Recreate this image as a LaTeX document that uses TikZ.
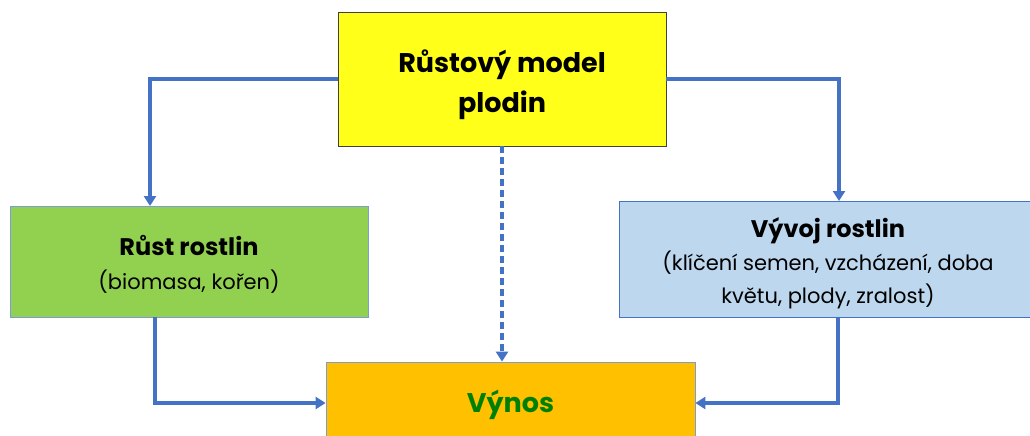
\documentclass[tikz,border=0pt]{standalone}
\usepackage{fontspec}
\setmainfont{Poppins}
\usetikzlibrary{arrows.meta}
\definecolor{flowblue}{HTML}{4472C4}
\definecolor{boxyellow}{HTML}{FFFF19}
\definecolor{boxgreen}{HTML}{92D050}
\definecolor{boxblue}{HTML}{BDD7EE}
\definecolor{boxorange}{HTML}{FFC000}
\definecolor{textgreen}{HTML}{008000}
\newcommand{\boxtext}[2][-5pt]{\raisebox{#1}[\height][\depth]{\begin{tabular}{@{}c@{}}#2\end{tabular}}}
\begin{document}
\begin{tikzpicture}[x=1pt,y=-1pt,
    box/.style={draw=flowblue!70,line width=0.8pt,align=center,inner sep=0pt},
    flow/.style={draw=flowblue,line width=3.5pt,-{Triangle[width=12pt,length=10pt]}}]
      \clip (0,0) rectangle (1030,436);
      \node[box,draw=black!75,fill=boxyellow,minimum width=328,minimum height=134,
        font=\fontsize{27}{40}\selectfont\bfseries] (model) at (502,79) {\boxtext{Růstový model\\plodin}};
      \node[box,fill=boxgreen,minimum width=358,minimum height=111,
        font=\fontsize{21}{34}\selectfont] (rust) at (189,261.5)
        {\boxtext[-4pt]{\fontsize{24}{34}\selectfont\bfseries Růst rostlin\\(biomasa, kořen)}};
      \node[box,draw=flowblue,fill=boxblue,minimum width=418,minimum height=116,
        font=\fontsize{21}{33}\selectfont] (vyvoj) at (828,259)
        {\boxtext{\fontsize{24}{36}\selectfont\bfseries Vývoj rostlin\\(klíčení semen, vzcházení, doba\\květu, plody, zralost)}};
      \node[box,fill=boxorange,minimum width=369,minimum height=82,text=textgreen,
        font=\fontsize{27}{34}\selectfont\bfseries] (vynos) at (510.5,403) {\boxtext[-3pt]{Výnos}};
      \coordinate (a) at (150,206);
      \coordinate (b) at (839,201);
      \coordinate (c) at (155,317);
      \coordinate (d) at (838,317);
      \draw [flow] (model.west) -| (a);
      \draw [flow] (model.east) -| (b);
      \draw [flow,dashed,dash pattern=on 7pt off 4pt] (model.south) -- (model.south |- vynos.north);
      \draw [flow] (c) |- (vynos.west);
      \draw [flow] (d) |- (vynos.east);
    \end{tikzpicture}
\end{document}
